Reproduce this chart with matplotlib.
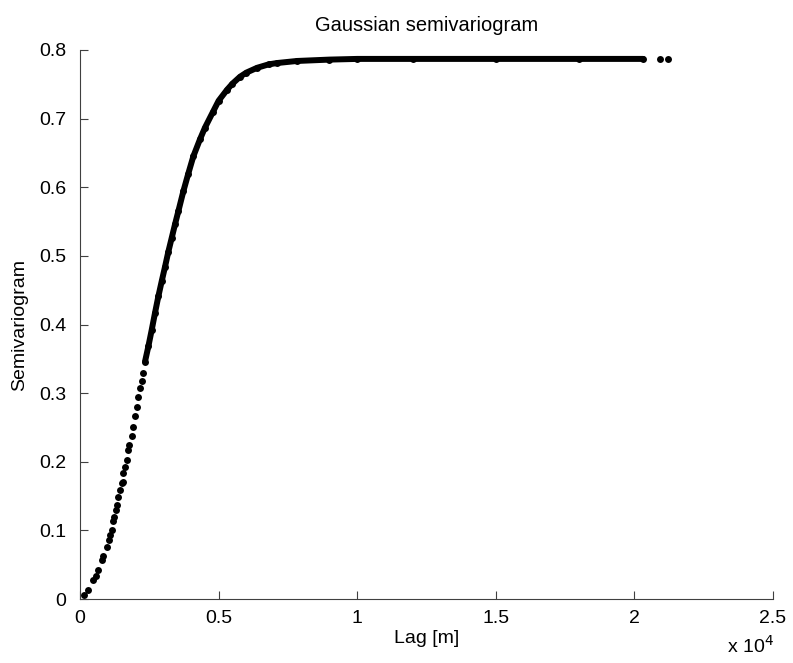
import matplotlib
matplotlib.use("Agg")
import matplotlib.pyplot as plt
from matplotlib.ticker import FuncFormatter

plt.rcParams['font.family'] = ['Liberation Sans', 'DejaVu Sans']

# sparse lower part of the cloud: lag [m] and semivariogram
lag_sparse = [144, 301, 481, 565, 661, 806, 842, 962, 1046, 1082, 1142, 1203,
              1239, 1287, 1323, 1383, 1443, 1503, 1539, 1563, 1623, 1683, 1744,
              1780, 1864, 1924, 1984, 2045, 2105, 2165, 2225, 2285]
gam_sparse = [0.006, 0.013, 0.028, 0.033, 0.042, 0.057, 0.062, 0.076, 0.086,
              0.093, 0.101, 0.113, 0.120, 0.130, 0.137, 0.149, 0.159, 0.169,
              0.171, 0.183, 0.193, 0.203, 0.217, 0.224, 0.237, 0.251, 0.266,
              0.280, 0.295, 0.307, 0.317, 0.329]

# dense part (points overlap into a band)
lag_dense = [2345, 2465, 2586, 2706, 2826, 2947, 3066, 3186, 3307, 3427, 3547,
             3727, 3907, 4088, 4329, 4509, 4798, 5000, 5303, 5500, 5772, 6000,
             6385, 6800, 7107, 7828, 9000, 10000, 12000, 15000, 18000, 20310]
gam_dense = [0.346, 0.368, 0.392, 0.417, 0.441, 0.463, 0.484, 0.506, 0.526,
             0.546, 0.565, 0.594, 0.620, 0.645, 0.670, 0.687, 0.710, 0.726,
             0.742, 0.751, 0.761, 0.767, 0.774, 0.779, 0.781, 0.784, 0.786,
             0.787, 0.787, 0.787, 0.787, 0.787]

# two isolated points at the far end
lag_far = [20924, 21212]
gam_far = [0.787, 0.787]

fig = plt.figure(figsize=(7.93, 6.63), dpi=100)
ax = fig.add_axes([0.1009, 0.0965, 0.8739, 0.8281])

ax.plot(lag_dense, gam_dense, '-', color='black', lw=4.3,
        solid_capstyle='round', solid_joinstyle='round')
ax.plot(lag_sparse + lag_dense + lag_far, gam_sparse + gam_dense + gam_far,
        'o', color='black', ms=5.0, mew=0)

ax.set_xlim(0, 25000)
ax.set_ylim(0, 0.8)
ax.set_xticks([0, 5000, 10000, 15000, 20000, 25000])
ax.set_yticks([0, 0.1, 0.2, 0.3, 0.4, 0.5, 0.6, 0.7, 0.8])
ax.xaxis.set_major_formatter(FuncFormatter(lambda v, p: "%g" % (v / 1e4)))
ax.yaxis.set_major_formatter(FuncFormatter(lambda v, p: "%g" % v))

for s in ['top', 'right']:
    ax.spines[s].set_visible(False)
for s in ['left', 'bottom']:
    ax.spines[s].set_color('#404040')
    ax.spines[s].set_linewidth(0.8)

ax.tick_params(axis='both', direction='in', length=6, width=0.8,
               color='#404040', labelsize=14)
ax.tick_params(axis='y', pad=10)
ax.tick_params(axis='x', pad=8)

ax.set_title("Gaussian semivariogram", fontsize=14.5, pad=14)
ax.set_xlabel("Lag [m]", fontsize=14, labelpad=2)
ax.set_ylabel("Semivariogram", fontsize=14, labelpad=8)
fig.text(0.917, 0.0155, r"x 10$^4$", fontsize=14)

fig.savefig("out.png", dpi=100)
